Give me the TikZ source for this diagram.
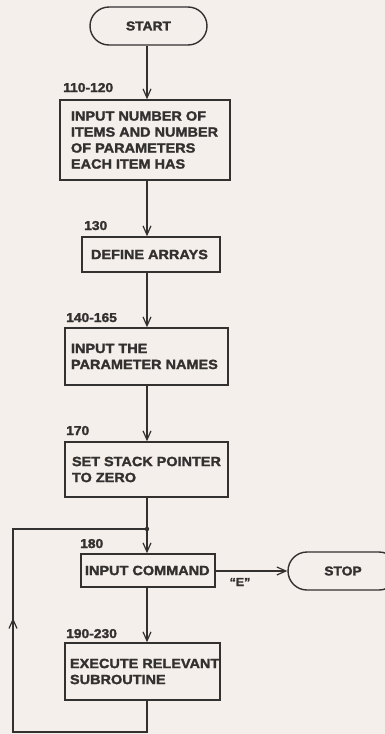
\documentclass[tikz,border=0pt]{standalone}
\usepackage{fontspec}
\newfontfamily\hv{Liberation Sans Bold}[FakeStretch=1.08,FakeBold=1.8]
\usetikzlibrary{arrows.meta,shapes.misc}
\definecolor{ink}{HTML}{333030}
\definecolor{paper}{HTML}{F5EFEB}
\hyphenpenalty=10000
\exhyphenpenalty=10000
\hfuzz=100pt
\begin{document}
\begin{tikzpicture}[x=1pt,y=1pt,
  every node/.style={text=ink},
  box/.style={draw=ink, line width=1.4pt, align=flush left, inner ysep=0pt,
              font=\hv\fontsize{13.4}{16}\selectfont},
  term/.style={draw=ink, line width=1.4pt, rounded rectangle, inner sep=0pt,
               font=\hv\fontsize{12.8}{14}\selectfont},
  lbl/.style={anchor=base west, inner sep=0pt, font=\hv\fontsize{12.8}{14}\selectfont},
  flow/.style={draw=ink, line width=1.3pt, -{Straight Barb[length=9pt,width=8pt,line width=1.2pt]}},
  link/.style={draw=ink, line width=1.3pt}
]
\fill[paper] (0,0) rectangle (385,-734);
\useasboundingbox (0,0) rectangle (385,-734);

\node[term, minimum width=117, minimum height=38] (start) at (148.5,-26) {START};

\node[box, minimum width=170, minimum height=80, inner xsep=11pt, text width=148] (b1) at (145,-140)
  {INPUT NUMBER OF\\ITEMS AND NUMBER\\OF PARAMETERS\\EACH ITEM HAS};
\node[lbl] (l1) at (63,-92) {110-120};

\node[box, minimum width=138, minimum height=35, inner xsep=9pt, text width=120] (b2) at (151,-254.5)
  {DEFINE ARRAYS};
\node[lbl] (l2) at (84,-230) {130};

\node[box, minimum width=163, minimum height=57, inner xsep=6pt, text width=151] (b3) at (146.5,-356.5)
  {INPUT THE\\PARAMETER NAMES};
\node[lbl] (l3) at (66,-322) {140-165};

\node[box, minimum width=163, minimum height=55, inner xsep=7pt, text width=149] (b4) at (146.5,-469.5)
  {SET STACK POINTER\\TO ZERO};
\node[lbl] (l4) at (66,-435) {170};

\node[box, minimum width=134, minimum height=33, inner xsep=4pt, text width=126] (b5) at (148,-570.5)
  {INPUT COMMAND};
\node[lbl] (l5) at (80,-548) {180};

\node[term, minimum width=110, minimum height=38] (stop) at (343,-571) {STOP};
\node[anchor=base, inner sep=0pt, font=\hv\fontsize{11.5}{12}\selectfont] (e) at (240,-586) {“E”};

\node[box, minimum width=155, minimum height=57, inner xsep=5pt, text width=145] (b6) at (142.5,-671.5)
  {\mbox{EXECUTE RELEVANT}\\SUBROUTINE};
\node[lbl] (l6) at (66,-638) {190-230};

\coordinate (j) at (147,-529);
\coordinate (bl) at (13,-732);
\coordinate (tl) at (13,-529);
\coordinate (br) at (147,-732);

\draw[flow] (start.south -| 147,0) -- (b1.north -| 147,0);
\draw[flow] (b1.south -| 147,0) -- (b2.north -| 147,0);
\draw[flow] (b2.south -| 147,0) -- (b3.north -| 147,0);
\draw[flow] (b3.south -| 147,0) -- (b4.north -| 147,0);
\draw[link] (b4.south -| 147,0) -- (j);
\draw[flow] (j) -- (b5.north -| 147,0);
\draw[flow] (b5.east |- 0,-571) -- (stop.west |- 0,-571);
\draw[flow] (b5.south -| 147,0) -- (b6.north -| 147,0);
\draw[link, line join=miter] (b6.south -| 147,0) -- (br) -- (bl) -- (tl) -- (j);
\draw[flow] (bl) -- (13,-618);
\fill[ink] (j) circle (2.2);
\end{tikzpicture}
\end{document}
